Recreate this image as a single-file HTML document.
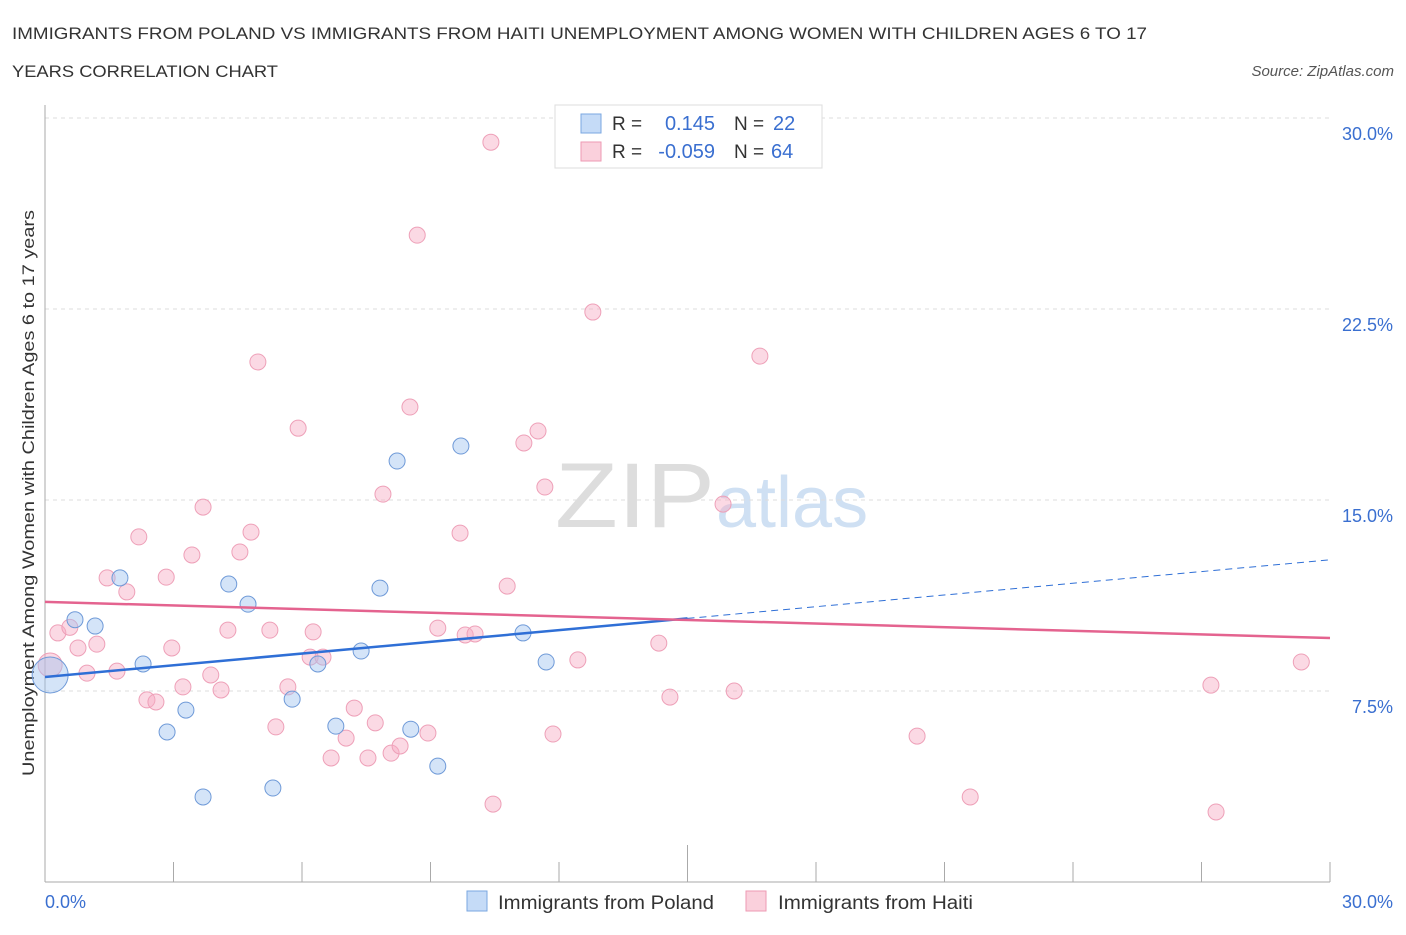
<!DOCTYPE html>
<html><head><meta charset="utf-8"><style>
body{margin:0;background:#fff;font-family:"Liberation Sans",sans-serif}
svg text{font-family:"Liberation Sans",sans-serif}
</style></head><body>
<svg id="chart" width="1406" height="930" xmlns="http://www.w3.org/2000/svg">
<text x="12" y="39" font-size="17" fill="#333" textLength="1135" lengthAdjust="spacingAndGlyphs">IMMIGRANTS FROM POLAND VS IMMIGRANTS FROM HAITI UNEMPLOYMENT AMONG WOMEN WITH CHILDREN AGES 6 TO 17</text>
<text x="12" y="77" font-size="17" fill="#333" textLength="266" lengthAdjust="spacingAndGlyphs">YEARS CORRELATION CHART</text>
<text x="1394" y="76" font-size="15" fill="#555" text-anchor="end" font-style="italic">Source: ZipAtlas.com</text>
<text x="555" y="527" font-size="92" fill="#ddd" font-family="Liberation Serif" textLength="160" lengthAdjust="spacingAndGlyphs">ZIP</text>
<text x="716" y="527" font-size="72" fill="#cfe0f3">atlas</text>
<text transform="translate(34,776) rotate(-90)" font-size="17" fill="#333" textLength="566" lengthAdjust="spacingAndGlyphs">Unemployment Among Women with Children Ages 6 to 17 years</text>
<g id="grid"></g><g id="axes"></g><g id="marks"></g>
<g>
<rect x="555" y="105" width="267" height="63" fill="#fff" stroke="#ddd"/>
<rect x="581" y="114" width="20" height="19" fill="#c5dbf7" stroke="#7aa7e0"/>
<rect x="581" y="142" width="20" height="19" fill="#fad0dc" stroke="#ee9ab3"/>
<text x="612" y="130" font-size="19" fill="#333">R =</text><text x="715" y="130" font-size="20" fill="#3a6fd0" text-anchor="end">0.145</text>
<text x="734" y="130" font-size="19" fill="#333">N =</text><text x="773" y="130" font-size="20" fill="#3a6fd0">22</text>
<text x="612" y="158" font-size="19" fill="#333">R =</text><text x="715" y="158" font-size="20" fill="#3a6fd0" text-anchor="end">-0.059</text>
<text x="734" y="158" font-size="19" fill="#333">N =</text><text x="771" y="158" font-size="20" fill="#3a6fd0">64</text>
</g>
<g>
<rect x="467" y="891" width="20" height="20" fill="#c5dbf7" stroke="#7aa7e0"/>
<text x="498" y="909" font-size="19" fill="#333" textLength="216" lengthAdjust="spacingAndGlyphs">Immigrants from Poland</text>
<rect x="746" y="891" width="20" height="20" fill="#fad0dc" stroke="#ee9ab3"/>
<text x="778" y="909" font-size="19" fill="#333" textLength="195" lengthAdjust="spacingAndGlyphs">Immigrants from Haiti</text>
</g>
</svg>
<script>
const yTicks=[7.5,15,22.5,30];
const yTickLabels=["7.5%","15.0%","22.5%","30.0%"];
const polandX=[0.12,0.7,1.17,1.75,2.29,2.85,3.29,3.69,4.29,4.74,5.32,5.77,6.37,6.79,7.38,7.82,8.22,8.54,9.17,9.71,11.16,11.7];
const polandY=[8.13,10.3,10.05,11.94,8.56,5.89,6.75,3.34,11.7,10.91,3.69,7.18,8.56,6.12,9.07,11.54,16.53,6.0,4.55,17.12,9.78,8.64];
const haitiX=[0.12,0.3,0.58,0.77,0.98,1.21,1.45,1.68,1.91,2.19,2.38,2.59,2.83,2.96,3.22,3.43,3.69,3.87,4.11,4.27,4.55,4.81,4.97,5.25,5.39,5.67,5.91,6.19,6.26,6.49,6.68,7.03,7.22,7.54,7.71,7.89,8.08,8.29,8.52,8.69,8.94,9.17,9.69,9.81,10.04,10.41,10.46,10.79,11.18,11.51,11.67,11.86,12.44,12.79,14.33,14.59,15.83,16.09,16.69,20.36,21.6,27.22,27.34,29.33];
const haitiY=[8.52,9.78,10.0,9.19,8.2,9.34,11.94,8.28,11.39,13.55,7.15,7.07,11.97,9.19,7.66,12.84,14.72,8.13,7.54,9.89,12.96,13.74,20.42,9.89,6.09,7.66,17.82,8.83,9.82,8.83,4.87,5.65,6.83,4.87,6.25,15.23,5.06,5.34,18.65,25.4,5.85,9.97,13.7,9.7,9.74,29.05,3.06,11.62,17.24,17.71,15.51,5.81,8.72,22.38,9.38,7.26,14.84,7.5,20.65,5.73,3.34,7.73,2.75,8.64];
const polandTrend=[8.05,12.65];
const haitiTrend=[11.0,9.58];
const NS="http://www.w3.org/2000/svg";
const X=v=>45+v*1285/30, Y=v=>882-v*191/7.5;
function mk(tag,attrs,parent){const e=document.createElementNS(NS,tag);for(const k in attrs)e.setAttribute(k,attrs[k]);document.getElementById(parent).appendChild(e);return e;}
yTicks.forEach((t,i)=>{
 const g=mk('line',{x1:45,x2:1330,y1:Y(t),y2:Y(t),stroke:'#ddd','stroke-dasharray':'4,4'},'grid');
 
 
 const tx=mk('text',{x:1393,y:Y(t)+22,'font-size':18,fill:'#3a6fd0','text-anchor':'end'},'axes');
 tx.textContent=yTickLabels[i];
 
 
});
const ax=mk('line',{x1:45,x2:45,y1:105,y2:882,stroke:'#aaa'},'axes');


const bx=mk('line',{x1:45,x2:1330,y1:882,y2:882,stroke:'#aaa'},'axes');


for(let i=0;i<=10;i++){
 const t=mk('line',{x1:X(i*3),x2:X(i*3),y1:i==5?845:862,y2:882,stroke:'#aaa'},'axes');
 
 
}
[["0.0%",45,'start'],["30.0%",1393,'end']].forEach(a=>{
 const t=mk('text',{x:a[1],y:908,'font-size':18,fill:'#3a6fd0','text-anchor':a[2]},'axes');
 t.textContent=a[0];
 
 
});
haitiX.forEach((x,i)=>{
 const c=mk('circle',{cx:X(x),cy:Y(haitiY[i]),r:i==0?12:8,fill:'rgba(246,170,195,0.45)',stroke:'#eea0b8'},'marks');
 
 
});
polandX.forEach((x,i)=>{
 const c=mk('circle',{cx:X(x),cy:Y(polandY[i]),r:i==0?18:8,fill:'rgba(160,195,240,0.45)',stroke:'#6f9ad8'},'marks');
 
 
});
const pm=polandTrend[0]+(polandTrend[1]-polandTrend[0])*0.5;
const l1=mk('line',{x1:X(0),y1:Y(polandTrend[0]),x2:X(15),y2:Y(pm),stroke:'#2f6fd6','stroke-width':2.5},'marks');


const l2=mk('line',{x1:X(15),y1:Y(pm),x2:X(30),y2:Y(polandTrend[1]),stroke:'#2f6fd6','stroke-width':1,'stroke-dasharray':'7,5'},'marks');


const l3=mk('line',{x1:X(0),y1:Y(haitiTrend[0]),x2:X(30),y2:Y(haitiTrend[1]),stroke:'#e4638f','stroke-width':2.5},'marks');


</script>
</body></html>
